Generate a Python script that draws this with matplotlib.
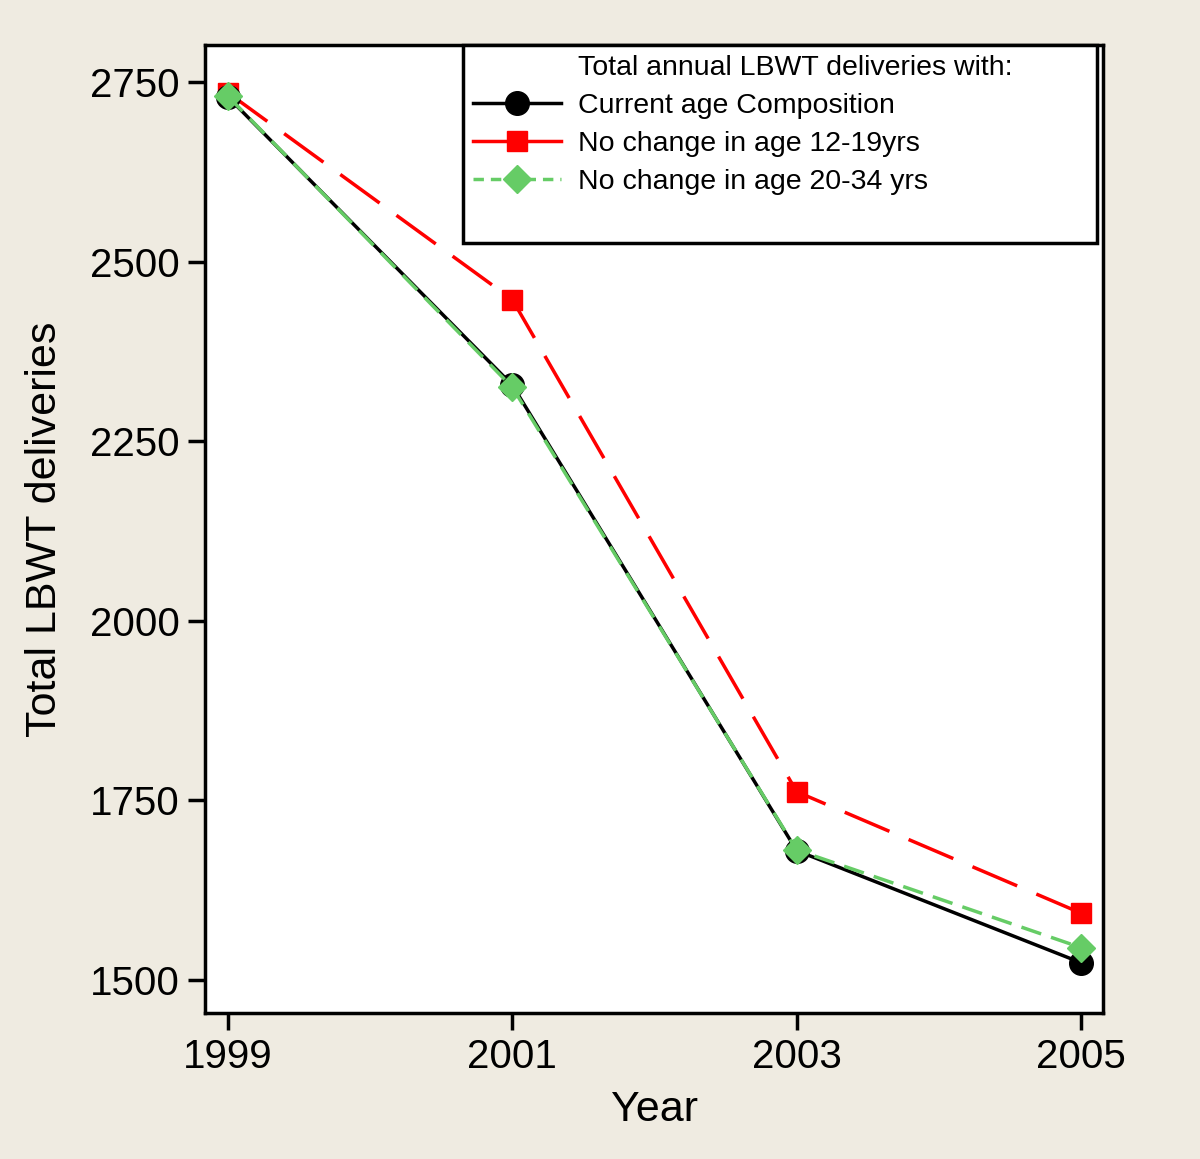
import matplotlib
matplotlib.use("Agg")
import matplotlib.pyplot as plt
from matplotlib.lines import Line2D

plt.rcParams['font.family'] = ['Liberation Sans', 'DejaVu Sans']

years = [1999, 2001, 2003, 2005]
current = [2729, 2328, 1680, 1524]
no_change_12_19 = [2735, 2447, 1762, 1593]
no_change_20_34 = [2730, 2325, 1681, 1545]
yticks = [1500, 1750, 2000, 2250, 2500, 2750]

bg = '#EFEBE1'
fig = plt.figure(figsize=(12, 11.59), dpi=100, facecolor=bg)
ax = fig.add_axes([0.1708, 0.126, 0.7484, 0.8352])
ax.set_facecolor('white')

ax.plot(years, no_change_12_19, color='#FF0000', lw=2.5, dashes=(14, 6),
        marker='s', ms=14, mec='#FF0000', mfc='#FF0000', zorder=2)
ax.plot(years, current, color='black', lw=2.5, marker='o', ms=17,
        mfc='black', mec='black', zorder=3)
ax.plot(years, no_change_20_34, color='#66CC66', lw=2.5, dashes=(6, 3),
        marker='D', ms=14, mfc='#66CC66', mec='#66CC66', zorder=4)

ax.set_xlim(1998.838, 2005.155)
ax.set_ylim(1454, 2801.5)
ax.set_xticks(years)
ax.set_yticks(yticks)
ax.tick_params(axis='both', direction='out', length=12, width=2.5,
               labelsize=29, pad=6, color='black')
for s in ax.spines.values():
    s.set_linewidth(2.5)

ax.set_xlabel('Year', fontsize=31, labelpad=10)
ax.set_ylabel('Total LBWT deliveries', fontsize=31, labelpad=18)

handles = [
    Line2D([], [], color='none'),
    Line2D([], [], color='black', lw=2.5, marker='o', ms=17),
    Line2D([], [], color='#FF0000', lw=2.5, marker='s', ms=14),
    Line2D([], [], color='#66CC66', lw=2.5, dashes=(3, 2), marker='D', ms=14),
    Line2D([], [], color='none'),
]
labels = ['Total annual LBWT deliveries with:', 'Current age Composition',
          'No change in age 12-19yrs', 'No change in age 20-34 yrs', ' ']
leg = ax.legend(handles, labels, loc='upper left',
                bbox_to_anchor=(0.287, 1.0, 0.706, 0.0), mode='expand',
                fontsize=20.5, frameon=True, fancybox=False, framealpha=1,
                handlelength=3.1, handletextpad=0.6, borderpad=0.35,
                labelspacing=0.42, borderaxespad=0.0)
leg.get_frame().set_edgecolor('black')
leg.get_frame().set_linewidth(2.5)

fig.savefig('out.png', dpi=100, facecolor=bg)
